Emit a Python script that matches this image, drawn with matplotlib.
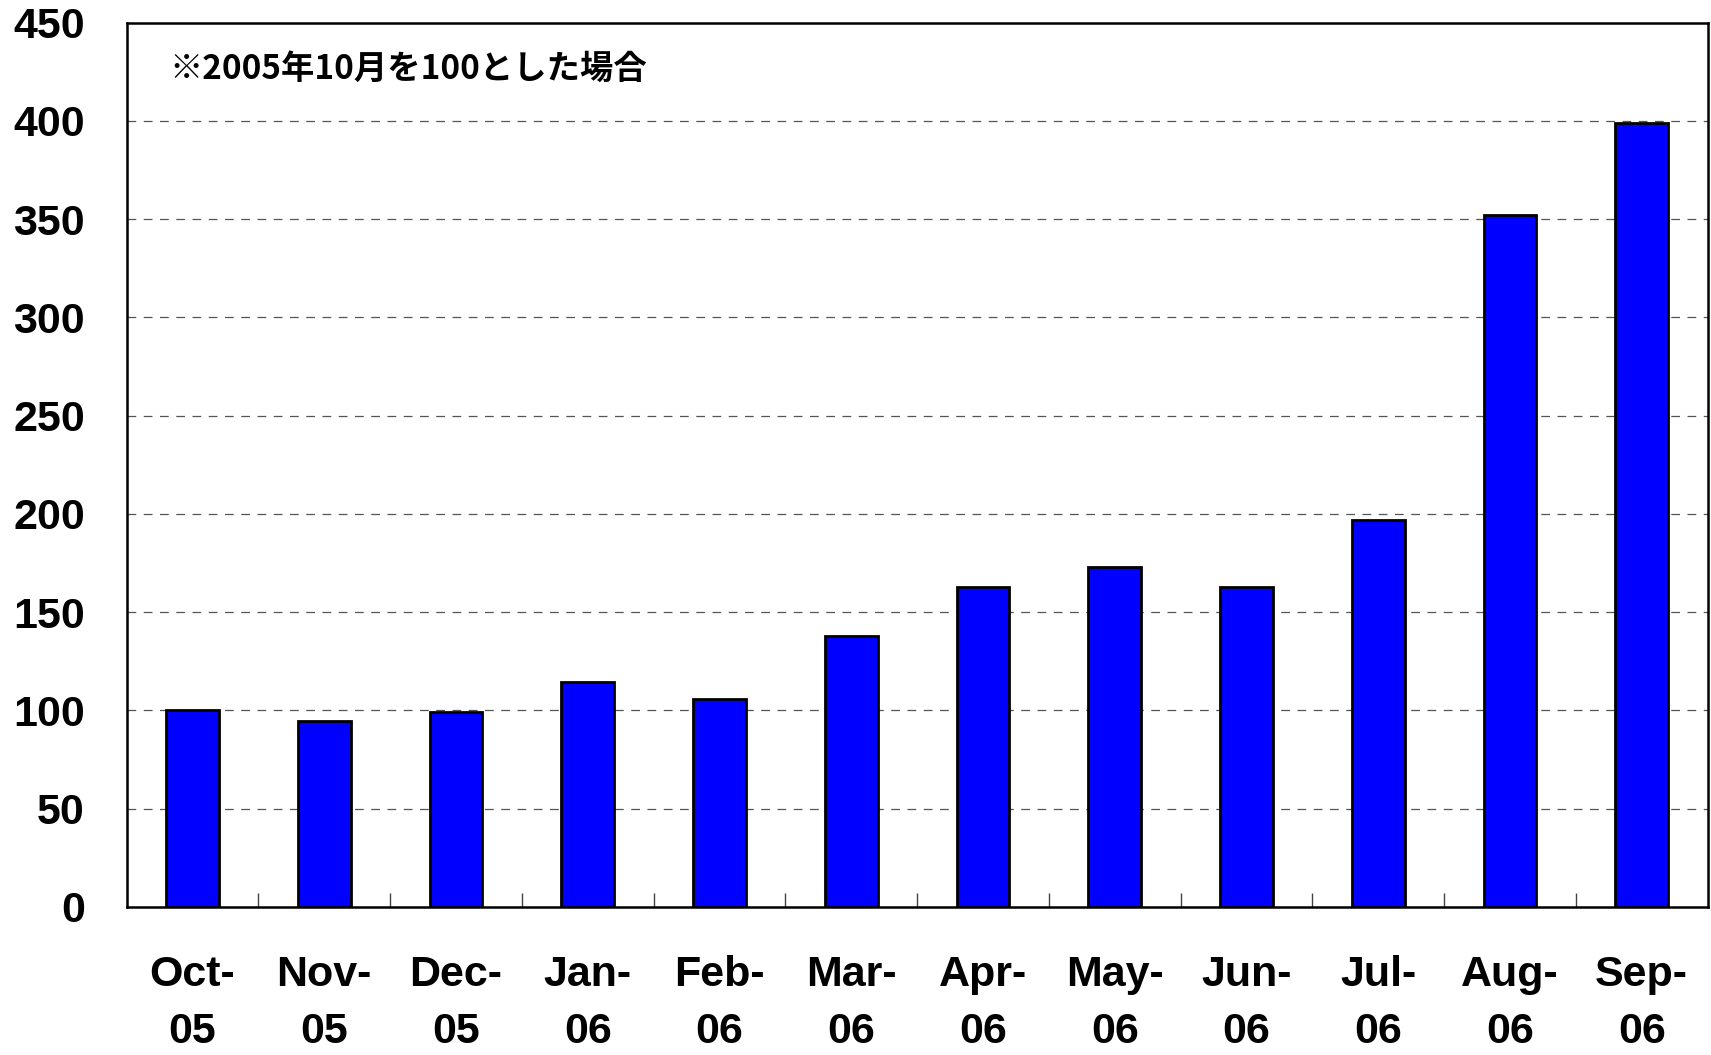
import matplotlib
matplotlib.use("Agg")
import matplotlib.pyplot as plt
import numpy as np

months = ["Oct-\n05", "Nov-\n05", "Dec-\n05", "Jan-\n06", "Feb-\n06", "Mar-\n06",
          "Apr-\n06", "May-\n06", "Jun-\n06", "Jul-\n06", "Aug-\n06", "Sep-\n06"]
values = [100, 94.6, 99, 114.6, 106, 138, 163, 173, 163, 197, 352, 399]
yticks = [0, 50, 100, 150, 200, 250, 300, 350, 400, 450]
note = "※2005年10月を100とした場合"

fig = plt.figure(figsize=(17.11, 10.55), dpi=100)
ax = fig.add_axes([0.074, 0.1405, 0.924, 0.838])

x = np.arange(len(values))
ax.bar(x, values, width=0.4, color="#0000FF", edgecolor="black", linewidth=2.0, zorder=3)

ax.set_xlim(-0.5, len(values) - 0.5)
ax.set_ylim(0, 450)
ax.set_yticks(yticks)
ax.set_yticklabels([str(v) for v in yticks], fontfamily="Liberation Sans",
                   fontweight="bold", fontsize=31)
ax.tick_params(axis="y", length=0, pad=30)

ax.set_xticks(x)
ax.set_xticklabels(months, fontfamily="Liberation Sans", fontweight="bold",
                   fontsize=31, linespacing=1.55)
ax.tick_params(axis="x", which="major", length=0, pad=35)
ax.set_xticks(np.arange(0.5, len(values) - 1, 1.0), minor=True)
ax.tick_params(axis="x", which="minor", direction="in", length=10, width=1, color="#444444")

for yv in yticks[1:-1]:
    ax.axhline(yv, color="#555555", linewidth=0.9, linestyle=(0, (7, 6)), zorder=1)

for s in ax.spines.values():
    s.set_linewidth(1.8)
    s.set_color("black")

ax.text(0.027, 0.947, note, transform=ax.transAxes, va="center", ha="left",
        fontsize=24, fontweight="bold",
        fontfamily=["Noto Sans CJK JP", "DejaVu Sans"])

fig.savefig("out.png", dpi=100)
